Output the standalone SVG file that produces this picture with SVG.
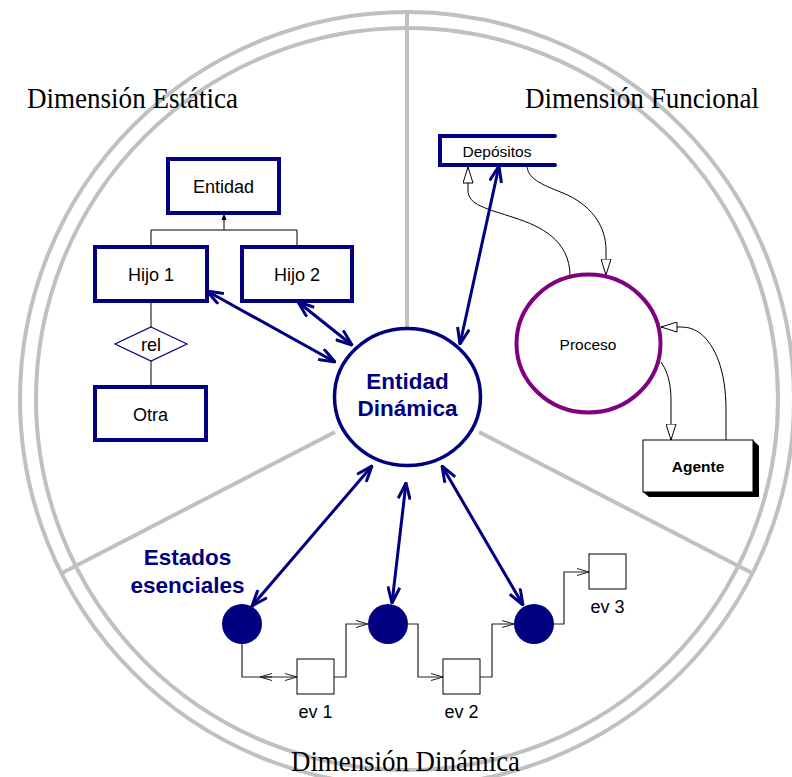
<svg xmlns="http://www.w3.org/2000/svg" width="792" height="777" viewBox="0 0 792 777">
  <style>
    .ring { fill: none; stroke: #c0c0c0; stroke-width: 4; }
    .divider { stroke: #c0c0c0; stroke-width: 4; }
    .dim { font-family: "Liberation Serif", "Times New Roman", serif; font-size: 30px; fill: #000; }
    .er { fill: #fff; stroke: #000080; stroke-width: 4; }
    .lbl { font-family: "Liberation Sans", Arial, sans-serif; font-size: 18px; fill: #000; text-anchor: middle; }
    .small { font-family: "Liberation Sans", Arial, sans-serif; font-size: 15.5px; fill: #000; text-anchor: middle; }
    .big { font-family: "Liberation Sans", Arial, sans-serif; font-size: 22.5px; font-weight: bold; fill: #000080; text-anchor: middle; }
    .thin { fill: none; stroke: #000; stroke-width: 1; }
    .link { fill: none; stroke: #000080; stroke-width: 3; marker-start: url(#navyHead); marker-end: url(#navyHead); }
    .flow { fill: none; stroke: #000; stroke-width: 1; marker-end: url(#hollowHead); }
    .evt { fill: none; stroke: #222; stroke-width: 1.2; marker-end: url(#openHead); }
    .state { fill: #000080; }
    .evbox { fill: #fff; stroke: #000; stroke-width: 1; }
  </style>
  <defs>
    <marker id="navyHead" viewBox="0 0 18 14" refX="17" refY="7" markerWidth="18" markerHeight="14" markerUnits="userSpaceOnUse" orient="auto-start-reverse">
      <path d="M1,1 L17,7 L1,13" fill="none" stroke="#000080" stroke-width="3" stroke-linejoin="miter"/>
    </marker>
    <marker id="hollowHead" viewBox="0 0 17 11" refX="16.5" refY="5.5" markerWidth="17" markerHeight="11" markerUnits="userSpaceOnUse" orient="auto">
      <path d="M0.5,0.5 L16.5,5.5 L0.5,10.5 Z" fill="#fff" stroke="#000" stroke-width="1"/>
    </marker>
    <marker id="openHead" viewBox="0 0 13 8" refX="12.5" refY="4" markerWidth="13" markerHeight="8" markerUnits="userSpaceOnUse" orient="auto">
      <path d="M0.5,0.5 L12.5,4 L0.5,7.5" fill="none" stroke="#222" stroke-width="1"/>
    </marker>
  </defs>

  <rect width="792" height="777" fill="#fff"/>

  <!-- concentric rings and the three sector dividers -->
  <g id="rings">
    <circle class="ring" cx="407" cy="399" r="387"/>
    <circle class="ring" cx="407" cy="399" r="371"/>
    <line class="divider" x1="407" y1="12" x2="407" y2="327"/>
    <line class="divider" x1="335" y1="432" x2="62" y2="573"/>
    <line class="divider" x1="479" y1="432" x2="752" y2="573"/>
  </g>

  <!-- sector titles -->
  <g id="titles">
    <text class="dim" x="27" y="108" textLength="211" lengthAdjust="spacingAndGlyphs">Dimensión Estática</text>
    <text class="dim" x="525" y="108" textLength="234" lengthAdjust="spacingAndGlyphs">Dimensión Funcional</text>
    <text class="dim" x="291" y="771" font-size="27" textLength="229" lengthAdjust="spacingAndGlyphs">Dimensión Dinámica</text>
  </g>

  <!-- connectors -->
  <g id="connectors">
    <!-- generalisation tree -->
    <path class="thin" d="M224,219 V230 M151,230 H297 M151,230 V247 M297,230 V247"/>
    <polygon points="224,213 221.5,220 226.5,220" fill="#000"/>
    <!-- relationship lines -->
    <path class="thin" d="M151,301 V327 M151,361 V387"/>

    <!-- links to the central entity -->
    <path class="link" d="M207,291 L335,362"/>
    <path class="link" d="M298,302 L352,345"/>
    <path class="link" d="M499,166 L460,344"/>
    <path class="link" d="M372,466 L252,606"/>
    <path class="link" d="M406,483 L392,603"/>
    <path class="link" d="M442,466 L523,605"/>

    <!-- data flows -->
    <path class="flow" d="M570,276 C570,240 540,226 515,218 C485,208 468,205 468,190 L468,167"/>
    <path class="flow" d="M527,165 C527,178 540,184 563,193 C590,204 606,225 606,250 L606,275"/>
    <path class="flow" d="M661,362 C668,372 671,385 671,400 L671,440"/>
    <path class="flow" d="M726,440 L726,410 C726,370 715,345 700,333 C692,328 688,327 678,327 L661,327"/>

    <!-- state / event transitions -->
    <path class="evt" d="M242,644 V677 H297"/>
    <path class="evt" d="M272,677 H260"/>
    <path class="evt" d="M334,677 H346 V624 H368"/>
    <path class="evt" d="M408,624 H418 V677 H443"/>
    <path class="evt" d="M480,677 H492 V624 H514"/>
    <path class="evt" d="M554,624 H564 V572 H589"/>
  </g>

  <!-- static dimension: entity model -->
  <g id="entidad">
    <rect class="er" x="168" y="159" width="111" height="54"/>
    <text class="lbl" x="223.5" y="193">Entidad</text>
  </g>
  <g id="hijo1">
    <rect class="er" x="95" y="247" width="112" height="54"/>
    <text class="lbl" x="151" y="281">Hijo 1</text>
  </g>
  <g id="hijo2">
    <rect class="er" x="242" y="247" width="110" height="54"/>
    <text class="lbl" x="297" y="281">Hijo 2</text>
  </g>
  <g id="rel">
    <polygon points="151,327 187,344 151,361 115,344" fill="#fff" stroke="#000080" stroke-width="1.2"/>
    <text class="lbl" x="151" y="351">rel</text>
  </g>
  <g id="otra">
    <rect class="er" x="95" y="387" width="111" height="53"/>
    <text class="lbl" x="150.5" y="421">Otra</text>
  </g>

  <!-- central entity -->
  <g id="entidad-dinamica">
    <ellipse cx="407.5" cy="397" rx="73" ry="68.5" fill="#fff" stroke="#000080" stroke-width="3.5"/>
    <text class="big" x="407.5" y="389">Entidad</text>
    <text class="big" x="407.5" y="416">Dinámica</text>
  </g>

  <!-- functional dimension -->
  <g id="depositos">
    <path d="M555,136 H440 V165 H555" fill="#fff" stroke="#000080" stroke-width="4" stroke-linecap="round"/>
    <text class="small" x="497" y="157">Depósitos</text>
  </g>
  <g id="proceso">
    <ellipse cx="588.5" cy="343.5" rx="72" ry="69" fill="#fff" stroke="#800080" stroke-width="4"/>
    <text class="small" x="588" y="350">Proceso</text>
  </g>
  <g id="agente">
    <polygon points="753,440 759,446 759,497 649,497 643,492 753,492" fill="#000"/>
    <rect x="643" y="440" width="110" height="52" fill="#fff" stroke="#000" stroke-width="1"/>
    <text class="small" x="698" y="472" font-weight="bold">Agente</text>
  </g>

  <!-- dynamic dimension -->
  <g id="estados-label">
    <text class="big" x="187.5" y="565">Estados</text>
    <text class="big" x="187.5" y="593">esenciales</text>
  </g>
  <g id="estado1"><circle class="state" cx="242" cy="624" r="20"/></g>
  <g id="estado2"><circle class="state" cx="388" cy="624" r="20"/></g>
  <g id="estado3"><circle class="state" cx="534" cy="624" r="20"/></g>
  <g id="ev1">
    <rect class="evbox" x="297" y="659" width="37" height="35"/>
    <text class="lbl" x="315.5" y="718">ev 1</text>
  </g>
  <g id="ev2">
    <rect class="evbox" x="443" y="659" width="37" height="35"/>
    <text class="lbl" x="461.5" y="718">ev 2</text>
  </g>
  <g id="ev3">
    <rect class="evbox" x="589" y="554" width="37" height="35"/>
    <text class="lbl" x="607.5" y="613">ev 3</text>
  </g>
</svg>
